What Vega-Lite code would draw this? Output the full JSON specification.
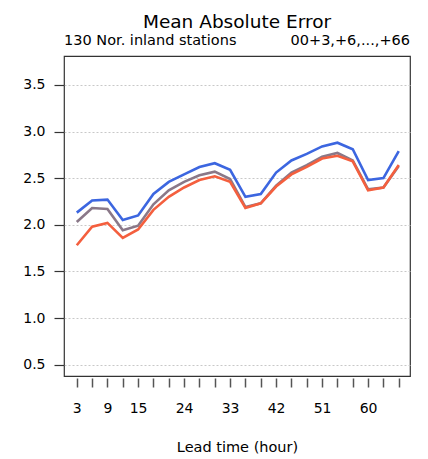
{
  "$schema": "https://vega.github.io/schema/vega-lite/v6.json",
  "autosize": {"type": "none"},
  "padding": {"left": 64, "top": 56, "right": 18, "bottom": 83},
  "width": 346,
  "height": 320,
  "background": "white",
  "config": {
    "font": "DejaVu Sans",
    "view": {"stroke": "#333333", "strokeWidth": 1.2},
    "axis": {"labelFont": "DejaVu Sans", "titleFont": "DejaVu Sans", "labelColor": "#000", "titleColor": "#000"}
  },
  "title": {"text": "Mean Absolute Error", "fontSize": 18.5, "fontWeight": "normal", "font": "DejaVu Sans", "anchor": "middle", "offset": 2, "color": "#000"},
  "data": {"values": [
    {"lead": 3, "series": "Model 1", "mae": 2.13},
    {"lead": 6, "series": "Model 1", "mae": 2.26},
    {"lead": 9, "series": "Model 1", "mae": 2.27},
    {"lead": 12, "series": "Model 1", "mae": 2.05},
    {"lead": 15, "series": "Model 1", "mae": 2.10},
    {"lead": 18, "series": "Model 1", "mae": 2.33},
    {"lead": 21, "series": "Model 1", "mae": 2.46},
    {"lead": 24, "series": "Model 1", "mae": 2.54},
    {"lead": 27, "series": "Model 1", "mae": 2.62},
    {"lead": 30, "series": "Model 1", "mae": 2.66},
    {"lead": 33, "series": "Model 1", "mae": 2.59},
    {"lead": 36, "series": "Model 1", "mae": 2.30},
    {"lead": 39, "series": "Model 1", "mae": 2.33},
    {"lead": 42, "series": "Model 1", "mae": 2.56},
    {"lead": 45, "series": "Model 1", "mae": 2.69},
    {"lead": 48, "series": "Model 1", "mae": 2.76},
    {"lead": 51, "series": "Model 1", "mae": 2.84},
    {"lead": 54, "series": "Model 1", "mae": 2.88},
    {"lead": 57, "series": "Model 1", "mae": 2.81},
    {"lead": 60, "series": "Model 1", "mae": 2.48},
    {"lead": 63, "series": "Model 1", "mae": 2.50},
    {"lead": 66, "series": "Model 1", "mae": 2.79},
    {"lead": 3, "series": "Model 2", "mae": 2.03},
    {"lead": 6, "series": "Model 2", "mae": 2.18},
    {"lead": 9, "series": "Model 2", "mae": 2.17},
    {"lead": 12, "series": "Model 2", "mae": 1.94},
    {"lead": 15, "series": "Model 2", "mae": 1.99},
    {"lead": 18, "series": "Model 2", "mae": 2.22},
    {"lead": 21, "series": "Model 2", "mae": 2.37},
    {"lead": 24, "series": "Model 2", "mae": 2.46},
    {"lead": 27, "series": "Model 2", "mae": 2.53},
    {"lead": 30, "series": "Model 2", "mae": 2.57},
    {"lead": 33, "series": "Model 2", "mae": 2.49},
    {"lead": 36, "series": "Model 2", "mae": 2.19},
    {"lead": 39, "series": "Model 2", "mae": 2.23},
    {"lead": 42, "series": "Model 2", "mae": 2.42},
    {"lead": 45, "series": "Model 2", "mae": 2.56},
    {"lead": 48, "series": "Model 2", "mae": 2.64},
    {"lead": 51, "series": "Model 2", "mae": 2.73},
    {"lead": 54, "series": "Model 2", "mae": 2.77},
    {"lead": 57, "series": "Model 2", "mae": 2.69},
    {"lead": 60, "series": "Model 2", "mae": 2.38},
    {"lead": 63, "series": "Model 2", "mae": 2.40},
    {"lead": 66, "series": "Model 2", "mae": 2.63},
    {"lead": 3, "series": "Model 3", "mae": 1.78},
    {"lead": 6, "series": "Model 3", "mae": 1.98},
    {"lead": 9, "series": "Model 3", "mae": 2.02},
    {"lead": 12, "series": "Model 3", "mae": 1.86},
    {"lead": 15, "series": "Model 3", "mae": 1.95},
    {"lead": 18, "series": "Model 3", "mae": 2.16},
    {"lead": 21, "series": "Model 3", "mae": 2.30},
    {"lead": 24, "series": "Model 3", "mae": 2.40},
    {"lead": 27, "series": "Model 3", "mae": 2.48},
    {"lead": 30, "series": "Model 3", "mae": 2.52},
    {"lead": 33, "series": "Model 3", "mae": 2.46},
    {"lead": 36, "series": "Model 3", "mae": 2.18},
    {"lead": 39, "series": "Model 3", "mae": 2.23},
    {"lead": 42, "series": "Model 3", "mae": 2.41},
    {"lead": 45, "series": "Model 3", "mae": 2.54},
    {"lead": 48, "series": "Model 3", "mae": 2.62},
    {"lead": 51, "series": "Model 3", "mae": 2.71},
    {"lead": 54, "series": "Model 3", "mae": 2.74},
    {"lead": 57, "series": "Model 3", "mae": 2.68},
    {"lead": 60, "series": "Model 3", "mae": 2.37},
    {"lead": 63, "series": "Model 3", "mae": 2.40},
    {"lead": 66, "series": "Model 3", "mae": 2.64}
  ]},
  "layer": [
    {
      "mark": {"type": "line", "strokeWidth": 2.6, "clip": true},
      "encoding": {
        "x": {
          "field": "lead", "type": "quantitative",
          "scale": {"domain": [0.5, 68.2], "nice": false, "zero": false},
          "axis": {
            "title": "Lead time (hour)", "titleFontSize": 14.5, "titleFontWeight": "normal", "titlePadding": 25,
            "values": [3,6,9,12,15,18,21,24,27,30,33,36,39,42,45,48,51,54,57,60,63,66],
            "tickCount": 40,
            "labelExpr": "indexof([3,9,15,24,33,42,51,60], datum.value) >= 0 ? datum.label : ''",
            "labelFontSize": 14, "labelPadding": 14, "labelOverlap": false, "labelFlush": false,
            "domain": false, "grid": false, "offset": 2, "tickSize": 9, "tickColor": "#555", "tickWidth": 1.5
          }
        },
        "y": {
          "field": "mae", "type": "quantitative",
          "scale": {"domain": [0.378, 3.81], "nice": false, "zero": false},
          "axis": {
            "title": null,
            "values": [0.5, 1.0, 1.5, 2.0, 2.5, 3.0, 3.5],
            "tickCount": 20,
            "format": ".1f", "labelFontSize": 14, "labelPadding": 9,
            "domain": false, "tickSize": 10, "tickColor": "#333", "tickWidth": 1.2,
            "grid": true, "gridDash": [2, 2], "gridColor": "#c8c8c8", "gridWidth": 1
          }
        },
        "color": {
          "field": "series", "type": "nominal",
          "scale": {"domain": ["Model 1", "Model 2", "Model 3"], "range": ["#3c66e0", "#8a7888", "#f45f3e"]},
          "legend": null
        }
      }
    },
    {
      "data": {"values": [{}]},
      "mark": {"type": "text", "text": "130 Nor. inland stations", "align": "left", "baseline": "alphabetic", "dy": -11, "fontSize": 14.5, "font": "DejaVu Sans", "color": "#000"},
      "encoding": {"x": {"datum": 0.5, "type": "quantitative"}, "y": {"datum": 3.81, "type": "quantitative"}}
    },
    {
      "data": {"values": [{}]},
      "mark": {"type": "text", "text": "00+3,+6,...,+66", "align": "right", "baseline": "alphabetic", "dy": -11, "fontSize": 14.5, "font": "DejaVu Sans", "color": "#000"},
      "encoding": {"x": {"datum": 68.2, "type": "quantitative"}, "y": {"datum": 3.81, "type": "quantitative"}}
    }
  ]
}
